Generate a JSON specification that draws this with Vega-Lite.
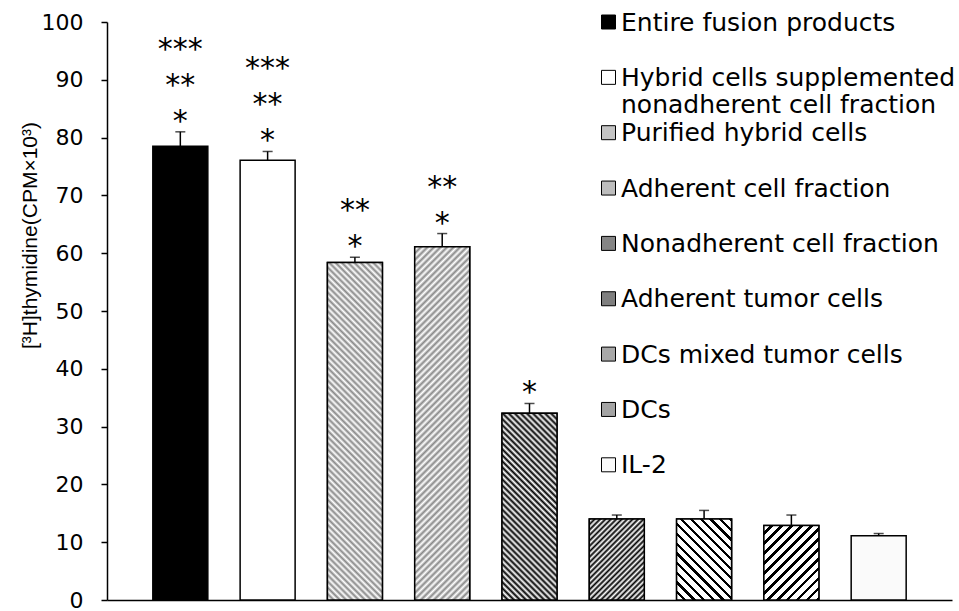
{
  "$schema": "https://vega.github.io/schema/vega-lite/v6.json",
  "width": 845,
  "height": 578,
  "autosize": {"type": "none"},
  "padding": {"left": 107, "top": 22, "right": 7, "bottom": 11},
  "background": "white",
  "config": {"view": {"stroke": null}, "font": "DejaVu Sans"},
  "data": {
    "values": [
      {"group": "Entire fusion products", "value": 78.5, "hi": 81.0, "s1": "*", "s2": "**", "s3": "***"},
      {"group": "Hybrid cells supplemented nonadherent cell fraction", "value": 76.1, "hi": 77.6, "s1": "*", "s2": "**", "s3": "***"},
      {"group": "Purified hybrid cells", "value": 58.4, "hi": 59.3, "s1": "*", "s2": "**", "s3": ""},
      {"group": "Adherent cell fraction", "value": 61.1, "hi": 63.4, "s1": "*", "s2": "**", "s3": ""},
      {"group": "Nonadherent cell fraction", "value": 32.3, "hi": 34.0, "s1": "*", "s2": "", "s3": ""},
      {"group": "Adherent tumor cells", "value": 14.0, "hi": 14.7, "s1": "", "s2": "", "s3": ""},
      {"group": "DCs mixed tumor cells", "value": 14.0, "hi": 15.5, "s1": "", "s2": "", "s3": ""},
      {"group": "DCs", "value": 12.9, "hi": 14.7, "s1": "", "s2": "", "s3": ""},
      {"group": "IL-2", "value": 11.1, "hi": 11.5, "s1": "", "s2": "", "s3": ""}
    ]
  },
  "encoding": {
    "x": {
      "field": "group",
      "type": "nominal",
      "sort": null,
      "scale": {
        "domain": ["Entire fusion products", "Hybrid cells supplemented nonadherent cell fraction", "Purified hybrid cells", "Adherent cell fraction", "Nonadherent cell fraction", "Adherent tumor cells", "DCs mixed tumor cells", "DCs", "IL-2"],
        "paddingInner": 0.37,
        "paddingOuter": 0.525
      },
      "axis": {"labels": false, "ticks": false, "title": null, "domainColor": "black", "domainWidth": 1.5}
    }
  },
  "layer": [
    {
      "mark": {"type": "bar", "stroke": "black", "strokeWidth": 1.5},
      "encoding": {
        "y": {
          "field": "value",
          "type": "quantitative",
          "scale": {"domain": [0, 100]},
          "axis": {
            "title": "[³H]thymidine(CPM×10³)",
            "values": [0, 10, 20, 30, 40, 50, 60, 70, 80, 90, 100],
            "grid": false,
            "domainColor": "black",
            "domainWidth": 1.5,
            "tickColor": "black",
            "tickWidth": 1.5,
            "tickSize": 6,
            "labelFont": "DejaVu Sans",
            "labelFontSize": 22,
            "labelColor": "black",
            "labelPadding": 18,
            "labelFlush": false,
            "labelOverlap": false,
            "titleFont": "Liberation Sans",
            "titleFontSize": 21,
            "titleFontWeight": "normal",
            "titleColor": "black",
            "titleX": -77,
            "titleY": 213,
            "titleAngle": -90,
            "titleAlign": "center",
            "titleBaseline": "middle"
          }
        },
        "fill": {
          "field": "group",
          "type": "nominal",
          "scale": {
            "domain": ["Entire fusion products", "Hybrid cells supplemented nonadherent cell fraction", "Purified hybrid cells", "Adherent cell fraction", "Nonadherent cell fraction", "Adherent tumor cells", "DCs mixed tumor cells", "DCs", "IL-2"],
            "range": ["#000000", "#ffffff", "#c4c4c4", "#bdbdbd", "#858585", "#7f7f7f", "#a8a8a8", "#a4a4a4", "#fafafa"]
          },
          "legend": {
            "orient": "none",
            "legendX": 489,
            "legendY": -12,
            "title": null,
            "padding": 0,
            "symbolType": "square",
            "symbolSize": 196,
            "symbolStrokeColor": "black",
            "symbolStrokeWidth": 1,
            "symbolOpacity": 1,
            "labelFont": "DejaVu Sans",
            "labelFontSize": 25,
            "labelColor": "black",
            "labelLimit": 0,
            "labelOffset": 0,
            "rowPadding": 2.35,
            "clipHeight": 24,
            "labelBaseline": "alphabetic",
            "labelExpr": "datum.label == 'Hybrid cells supplemented nonadherent cell fraction' ? ['Hybrid cells supplemented', 'nonadherent cell fraction'] : [datum.label, ' ']",
            "encode": {"labels": {"update": {"dy": {"value": 8.5}}}}
          }
        }
      }
    },
    {
      "transform": [{"filter": "datum.group == 'Purified hybrid cells'"}],
      "mark": {"type": "bar", "stroke": "black", "strokeWidth": 1.5,
        "fill": {"gradient": "linear", "x1": 0, "y1": 1, "x2": 0.1846, "y2": -0.1329, "stops": [
          {"offset": 0, "color": "#888"}, {"offset": 0.008, "color": "#fff"}, {"offset": 0.016, "color": "#888"}, {"offset": 0.024, "color": "#fff"},
          {"offset": 0.032, "color": "#888"}, {"offset": 0.04, "color": "#fff"}, {"offset": 0.048, "color": "#888"}, {"offset": 0.056, "color": "#fff"},
          {"offset": 0.064, "color": "#888"}, {"offset": 0.072, "color": "#fff"}, {"offset": 0.08, "color": "#888"}, {"offset": 0.088, "color": "#fff"},
          {"offset": 0.096, "color": "#888"}, {"offset": 0.104, "color": "#fff"}, {"offset": 0.112, "color": "#888"}, {"offset": 0.12, "color": "#fff"},
          {"offset": 0.128, "color": "#888"}, {"offset": 0.136, "color": "#fff"}, {"offset": 0.144, "color": "#888"}, {"offset": 0.152, "color": "#fff"},
          {"offset": 0.16, "color": "#888"}, {"offset": 0.168, "color": "#fff"}, {"offset": 0.176, "color": "#888"}, {"offset": 0.184, "color": "#fff"},
          {"offset": 0.192, "color": "#888"}, {"offset": 0.2, "color": "#fff"}, {"offset": 0.208, "color": "#888"}, {"offset": 0.216, "color": "#fff"},
          {"offset": 0.224, "color": "#888"}, {"offset": 0.232, "color": "#fff"}, {"offset": 0.24, "color": "#888"}, {"offset": 0.248, "color": "#fff"},
          {"offset": 0.256, "color": "#888"}, {"offset": 0.264, "color": "#fff"}, {"offset": 0.272, "color": "#888"}, {"offset": 0.28, "color": "#fff"},
          {"offset": 0.288, "color": "#888"}, {"offset": 0.296, "color": "#fff"}, {"offset": 0.304, "color": "#888"}, {"offset": 0.312, "color": "#fff"},
          {"offset": 0.32, "color": "#888"}, {"offset": 0.328, "color": "#fff"}, {"offset": 0.336, "color": "#888"}, {"offset": 0.344, "color": "#fff"},
          {"offset": 0.352, "color": "#888"}, {"offset": 0.36, "color": "#fff"}, {"offset": 0.368, "color": "#888"}, {"offset": 0.376, "color": "#fff"},
          {"offset": 0.384, "color": "#888"}, {"offset": 0.392, "color": "#fff"}, {"offset": 0.4, "color": "#888"}, {"offset": 0.408, "color": "#fff"},
          {"offset": 0.416, "color": "#888"}, {"offset": 0.424, "color": "#fff"}, {"offset": 0.432, "color": "#888"}, {"offset": 0.44, "color": "#fff"},
          {"offset": 0.448, "color": "#888"}, {"offset": 0.456, "color": "#fff"}, {"offset": 0.464, "color": "#888"}, {"offset": 0.472, "color": "#fff"},
          {"offset": 0.48, "color": "#888"}, {"offset": 0.488, "color": "#fff"}, {"offset": 0.496, "color": "#888"}, {"offset": 0.504, "color": "#fff"},
          {"offset": 0.512, "color": "#888"}, {"offset": 0.52, "color": "#fff"}, {"offset": 0.528, "color": "#888"}, {"offset": 0.536, "color": "#fff"},
          {"offset": 0.544, "color": "#888"}, {"offset": 0.552, "color": "#fff"}, {"offset": 0.56, "color": "#888"}, {"offset": 0.568, "color": "#fff"},
          {"offset": 0.576, "color": "#888"}, {"offset": 0.584, "color": "#fff"}, {"offset": 0.592, "color": "#888"}, {"offset": 0.6, "color": "#fff"},
          {"offset": 0.608, "color": "#888"}, {"offset": 0.616, "color": "#fff"}, {"offset": 0.624, "color": "#888"}, {"offset": 0.632, "color": "#fff"},
          {"offset": 0.64, "color": "#888"}, {"offset": 0.648, "color": "#fff"}, {"offset": 0.656, "color": "#888"}, {"offset": 0.664, "color": "#fff"},
          {"offset": 0.672, "color": "#888"}, {"offset": 0.68, "color": "#fff"}, {"offset": 0.688, "color": "#888"}, {"offset": 0.696, "color": "#fff"},
          {"offset": 0.704, "color": "#888"}, {"offset": 0.712, "color": "#fff"}, {"offset": 0.72, "color": "#888"}, {"offset": 0.728, "color": "#fff"},
          {"offset": 0.736, "color": "#888"}, {"offset": 0.744, "color": "#fff"}, {"offset": 0.752, "color": "#888"}, {"offset": 0.76, "color": "#fff"},
          {"offset": 0.768, "color": "#888"}, {"offset": 0.776, "color": "#fff"}, {"offset": 0.784, "color": "#888"}, {"offset": 0.792, "color": "#fff"},
          {"offset": 0.8, "color": "#888"}, {"offset": 0.808, "color": "#fff"}, {"offset": 0.816, "color": "#888"}, {"offset": 0.824, "color": "#fff"},
          {"offset": 0.832, "color": "#888"}, {"offset": 0.84, "color": "#fff"}, {"offset": 0.848, "color": "#888"}, {"offset": 0.856, "color": "#fff"},
          {"offset": 0.864, "color": "#888"}, {"offset": 0.872, "color": "#fff"}, {"offset": 0.88, "color": "#888"}, {"offset": 0.888, "color": "#fff"},
          {"offset": 0.896, "color": "#888"}, {"offset": 0.904, "color": "#fff"}, {"offset": 0.912, "color": "#888"}, {"offset": 0.92, "color": "#fff"},
          {"offset": 0.928, "color": "#888"}, {"offset": 0.936, "color": "#fff"}, {"offset": 0.944, "color": "#888"}, {"offset": 0.952, "color": "#fff"},
          {"offset": 0.96, "color": "#888"}, {"offset": 0.968, "color": "#fff"}, {"offset": 0.976, "color": "#888"}, {"offset": 0.984, "color": "#fff"},
          {"offset": 0.992, "color": "#888"}, {"offset": 1, "color": "#fff"}
        ]}
      },
      "encoding": {"y": {"field": "value", "type": "quantitative"}}
    },
    {
      "transform": [{"filter": "datum.group == 'Adherent cell fraction'"}],
      "mark": {"type": "bar", "stroke": "black", "strokeWidth": 1.5,
        "fill": {"gradient": "linear", "x1": 0, "y1": 0, "x2": 0.1757, "y2": 1.1284, "stops": [
          {"offset": 0, "color": "#888"}, {"offset": 0.008, "color": "#fff"}, {"offset": 0.016, "color": "#888"}, {"offset": 0.024, "color": "#fff"},
          {"offset": 0.032, "color": "#888"}, {"offset": 0.04, "color": "#fff"}, {"offset": 0.048, "color": "#888"}, {"offset": 0.056, "color": "#fff"},
          {"offset": 0.064, "color": "#888"}, {"offset": 0.072, "color": "#fff"}, {"offset": 0.08, "color": "#888"}, {"offset": 0.088, "color": "#fff"},
          {"offset": 0.096, "color": "#888"}, {"offset": 0.104, "color": "#fff"}, {"offset": 0.112, "color": "#888"}, {"offset": 0.12, "color": "#fff"},
          {"offset": 0.128, "color": "#888"}, {"offset": 0.136, "color": "#fff"}, {"offset": 0.144, "color": "#888"}, {"offset": 0.152, "color": "#fff"},
          {"offset": 0.16, "color": "#888"}, {"offset": 0.168, "color": "#fff"}, {"offset": 0.176, "color": "#888"}, {"offset": 0.184, "color": "#fff"},
          {"offset": 0.192, "color": "#888"}, {"offset": 0.2, "color": "#fff"}, {"offset": 0.208, "color": "#888"}, {"offset": 0.216, "color": "#fff"},
          {"offset": 0.224, "color": "#888"}, {"offset": 0.232, "color": "#fff"}, {"offset": 0.24, "color": "#888"}, {"offset": 0.248, "color": "#fff"},
          {"offset": 0.256, "color": "#888"}, {"offset": 0.264, "color": "#fff"}, {"offset": 0.272, "color": "#888"}, {"offset": 0.28, "color": "#fff"},
          {"offset": 0.288, "color": "#888"}, {"offset": 0.296, "color": "#fff"}, {"offset": 0.304, "color": "#888"}, {"offset": 0.312, "color": "#fff"},
          {"offset": 0.32, "color": "#888"}, {"offset": 0.328, "color": "#fff"}, {"offset": 0.336, "color": "#888"}, {"offset": 0.344, "color": "#fff"},
          {"offset": 0.352, "color": "#888"}, {"offset": 0.36, "color": "#fff"}, {"offset": 0.368, "color": "#888"}, {"offset": 0.376, "color": "#fff"},
          {"offset": 0.384, "color": "#888"}, {"offset": 0.392, "color": "#fff"}, {"offset": 0.4, "color": "#888"}, {"offset": 0.408, "color": "#fff"},
          {"offset": 0.416, "color": "#888"}, {"offset": 0.424, "color": "#fff"}, {"offset": 0.432, "color": "#888"}, {"offset": 0.44, "color": "#fff"},
          {"offset": 0.448, "color": "#888"}, {"offset": 0.456, "color": "#fff"}, {"offset": 0.464, "color": "#888"}, {"offset": 0.472, "color": "#fff"},
          {"offset": 0.48, "color": "#888"}, {"offset": 0.488, "color": "#fff"}, {"offset": 0.496, "color": "#888"}, {"offset": 0.504, "color": "#fff"},
          {"offset": 0.512, "color": "#888"}, {"offset": 0.52, "color": "#fff"}, {"offset": 0.528, "color": "#888"}, {"offset": 0.536, "color": "#fff"},
          {"offset": 0.544, "color": "#888"}, {"offset": 0.552, "color": "#fff"}, {"offset": 0.56, "color": "#888"}, {"offset": 0.568, "color": "#fff"},
          {"offset": 0.576, "color": "#888"}, {"offset": 0.584, "color": "#fff"}, {"offset": 0.592, "color": "#888"}, {"offset": 0.6, "color": "#fff"},
          {"offset": 0.608, "color": "#888"}, {"offset": 0.616, "color": "#fff"}, {"offset": 0.624, "color": "#888"}, {"offset": 0.632, "color": "#fff"},
          {"offset": 0.64, "color": "#888"}, {"offset": 0.648, "color": "#fff"}, {"offset": 0.656, "color": "#888"}, {"offset": 0.664, "color": "#fff"},
          {"offset": 0.672, "color": "#888"}, {"offset": 0.68, "color": "#fff"}, {"offset": 0.688, "color": "#888"}, {"offset": 0.696, "color": "#fff"},
          {"offset": 0.704, "color": "#888"}, {"offset": 0.712, "color": "#fff"}, {"offset": 0.72, "color": "#888"}, {"offset": 0.728, "color": "#fff"},
          {"offset": 0.736, "color": "#888"}, {"offset": 0.744, "color": "#fff"}, {"offset": 0.752, "color": "#888"}, {"offset": 0.76, "color": "#fff"},
          {"offset": 0.768, "color": "#888"}, {"offset": 0.776, "color": "#fff"}, {"offset": 0.784, "color": "#888"}, {"offset": 0.792, "color": "#fff"},
          {"offset": 0.8, "color": "#888"}, {"offset": 0.808, "color": "#fff"}, {"offset": 0.816, "color": "#888"}, {"offset": 0.824, "color": "#fff"},
          {"offset": 0.832, "color": "#888"}, {"offset": 0.84, "color": "#fff"}, {"offset": 0.848, "color": "#888"}, {"offset": 0.856, "color": "#fff"},
          {"offset": 0.864, "color": "#888"}, {"offset": 0.872, "color": "#fff"}, {"offset": 0.88, "color": "#888"}, {"offset": 0.888, "color": "#fff"},
          {"offset": 0.896, "color": "#888"}, {"offset": 0.904, "color": "#fff"}, {"offset": 0.912, "color": "#888"}, {"offset": 0.92, "color": "#fff"},
          {"offset": 0.928, "color": "#888"}, {"offset": 0.936, "color": "#fff"}, {"offset": 0.944, "color": "#888"}, {"offset": 0.952, "color": "#fff"},
          {"offset": 0.96, "color": "#888"}, {"offset": 0.968, "color": "#fff"}, {"offset": 0.976, "color": "#888"}, {"offset": 0.984, "color": "#fff"},
          {"offset": 0.992, "color": "#888"}, {"offset": 1, "color": "#fff"}
        ]}
      },
      "encoding": {"y": {"field": "value", "type": "quantitative"}}
    },
    {
      "transform": [{"filter": "datum.group == 'Nonadherent cell fraction'"}],
      "mark": {"type": "bar", "stroke": "black", "strokeWidth": 1.5,
        "fill": {"gradient": "linear", "x1": 0, "y1": 1, "x2": 0.3509, "y2": -0.1912, "stops": [
          {"offset": 0, "color": "#000"}, {"offset": 0.0125, "color": "#fff"}, {"offset": 0.025, "color": "#000"}, {"offset": 0.0375, "color": "#fff"},
          {"offset": 0.05, "color": "#000"}, {"offset": 0.0625, "color": "#fff"}, {"offset": 0.075, "color": "#000"}, {"offset": 0.0875, "color": "#fff"},
          {"offset": 0.1, "color": "#000"}, {"offset": 0.1125, "color": "#fff"}, {"offset": 0.125, "color": "#000"}, {"offset": 0.1375, "color": "#fff"},
          {"offset": 0.15, "color": "#000"}, {"offset": 0.1625, "color": "#fff"}, {"offset": 0.175, "color": "#000"}, {"offset": 0.1875, "color": "#fff"},
          {"offset": 0.2, "color": "#000"}, {"offset": 0.2125, "color": "#fff"}, {"offset": 0.225, "color": "#000"}, {"offset": 0.2375, "color": "#fff"},
          {"offset": 0.25, "color": "#000"}, {"offset": 0.2625, "color": "#fff"}, {"offset": 0.275, "color": "#000"}, {"offset": 0.2875, "color": "#fff"},
          {"offset": 0.3, "color": "#000"}, {"offset": 0.3125, "color": "#fff"}, {"offset": 0.325, "color": "#000"}, {"offset": 0.3375, "color": "#fff"},
          {"offset": 0.35, "color": "#000"}, {"offset": 0.3625, "color": "#fff"}, {"offset": 0.375, "color": "#000"}, {"offset": 0.3875, "color": "#fff"},
          {"offset": 0.4, "color": "#000"}, {"offset": 0.4125, "color": "#fff"}, {"offset": 0.425, "color": "#000"}, {"offset": 0.4375, "color": "#fff"},
          {"offset": 0.45, "color": "#000"}, {"offset": 0.4625, "color": "#fff"}, {"offset": 0.475, "color": "#000"}, {"offset": 0.4875, "color": "#fff"},
          {"offset": 0.5, "color": "#000"}, {"offset": 0.5125, "color": "#fff"}, {"offset": 0.525, "color": "#000"}, {"offset": 0.5375, "color": "#fff"},
          {"offset": 0.55, "color": "#000"}, {"offset": 0.5625, "color": "#fff"}, {"offset": 0.575, "color": "#000"}, {"offset": 0.5875, "color": "#fff"},
          {"offset": 0.6, "color": "#000"}, {"offset": 0.6125, "color": "#fff"}, {"offset": 0.625, "color": "#000"}, {"offset": 0.6375, "color": "#fff"},
          {"offset": 0.65, "color": "#000"}, {"offset": 0.6625, "color": "#fff"}, {"offset": 0.675, "color": "#000"}, {"offset": 0.6875, "color": "#fff"},
          {"offset": 0.7, "color": "#000"}, {"offset": 0.7125, "color": "#fff"}, {"offset": 0.725, "color": "#000"}, {"offset": 0.7375, "color": "#fff"},
          {"offset": 0.75, "color": "#000"}, {"offset": 0.7625, "color": "#fff"}, {"offset": 0.775, "color": "#000"}, {"offset": 0.7875, "color": "#fff"},
          {"offset": 0.8, "color": "#000"}, {"offset": 0.8125, "color": "#fff"}, {"offset": 0.825, "color": "#000"}, {"offset": 0.8375, "color": "#fff"},
          {"offset": 0.85, "color": "#000"}, {"offset": 0.8625, "color": "#fff"}, {"offset": 0.875, "color": "#000"}, {"offset": 0.8875, "color": "#fff"},
          {"offset": 0.9, "color": "#000"}, {"offset": 0.9125, "color": "#fff"}, {"offset": 0.925, "color": "#000"}, {"offset": 0.9375, "color": "#fff"},
          {"offset": 0.95, "color": "#000"}, {"offset": 0.9625, "color": "#fff"}, {"offset": 0.975, "color": "#000"}, {"offset": 0.9875, "color": "#fff"},
          {"offset": 1, "color": "#000"}
        ]}
      },
      "encoding": {"y": {"field": "value", "type": "quantitative"}}
    },
    {
      "transform": [{"filter": "datum.group == 'Adherent tumor cells'"}],
      "mark": {"type": "bar", "stroke": "black", "strokeWidth": 1.5,
        "fill": {"gradient": "linear", "x1": 0, "y1": 0, "x2": 0.781, "y2": 1.1488, "stops": [
          {"offset": 0, "color": "#000"}, {"offset": 0.02, "color": "#fff"}, {"offset": 0.04, "color": "#000"}, {"offset": 0.06, "color": "#fff"},
          {"offset": 0.08, "color": "#000"}, {"offset": 0.1, "color": "#fff"}, {"offset": 0.12, "color": "#000"}, {"offset": 0.14, "color": "#fff"},
          {"offset": 0.16, "color": "#000"}, {"offset": 0.18, "color": "#fff"}, {"offset": 0.2, "color": "#000"}, {"offset": 0.22, "color": "#fff"},
          {"offset": 0.24, "color": "#000"}, {"offset": 0.26, "color": "#fff"}, {"offset": 0.28, "color": "#000"}, {"offset": 0.3, "color": "#fff"},
          {"offset": 0.32, "color": "#000"}, {"offset": 0.34, "color": "#fff"}, {"offset": 0.36, "color": "#000"}, {"offset": 0.38, "color": "#fff"},
          {"offset": 0.4, "color": "#000"}, {"offset": 0.42, "color": "#fff"}, {"offset": 0.44, "color": "#000"}, {"offset": 0.46, "color": "#fff"},
          {"offset": 0.48, "color": "#000"}, {"offset": 0.5, "color": "#fff"}, {"offset": 0.52, "color": "#000"}, {"offset": 0.54, "color": "#fff"},
          {"offset": 0.56, "color": "#000"}, {"offset": 0.58, "color": "#fff"}, {"offset": 0.6, "color": "#000"}, {"offset": 0.62, "color": "#fff"},
          {"offset": 0.64, "color": "#000"}, {"offset": 0.66, "color": "#fff"}, {"offset": 0.68, "color": "#000"}, {"offset": 0.7, "color": "#fff"},
          {"offset": 0.72, "color": "#000"}, {"offset": 0.74, "color": "#fff"}, {"offset": 0.76, "color": "#000"}, {"offset": 0.78, "color": "#fff"},
          {"offset": 0.8, "color": "#000"}, {"offset": 0.82, "color": "#fff"}, {"offset": 0.84, "color": "#000"}, {"offset": 0.86, "color": "#fff"},
          {"offset": 0.88, "color": "#000"}, {"offset": 0.9, "color": "#fff"}, {"offset": 0.92, "color": "#000"}, {"offset": 0.94, "color": "#fff"},
          {"offset": 0.96, "color": "#000"}, {"offset": 0.98, "color": "#fff"}, {"offset": 1, "color": "#000"}
        ]}
      },
      "encoding": {"y": {"field": "value", "type": "quantitative"}}
    },
    {
      "transform": [{"filter": "datum.group == 'DCs mixed tumor cells'"}],
      "mark": {"type": "bar", "stroke": "black", "strokeWidth": 1.5,
        "fill": {"gradient": "linear", "x1": 0, "y1": 1, "x2": 0.781, "y2": -0.149, "stops": [
          {"offset": 0, "color": "#fff"}, {"offset": 0.0479, "color": "#fff"}, {"offset": 0.0479, "color": "#000"}, {"offset": 0.0714, "color": "#000"},
          {"offset": 0.0714, "color": "#fff"}, {"offset": 0.1193, "color": "#fff"}, {"offset": 0.1193, "color": "#000"}, {"offset": 0.1429, "color": "#000"},
          {"offset": 0.1429, "color": "#fff"}, {"offset": 0.1907, "color": "#fff"}, {"offset": 0.1907, "color": "#000"}, {"offset": 0.2143, "color": "#000"},
          {"offset": 0.2143, "color": "#fff"}, {"offset": 0.2622, "color": "#fff"}, {"offset": 0.2622, "color": "#000"}, {"offset": 0.2857, "color": "#000"},
          {"offset": 0.2857, "color": "#fff"}, {"offset": 0.3336, "color": "#fff"}, {"offset": 0.3336, "color": "#000"}, {"offset": 0.3571, "color": "#000"},
          {"offset": 0.3571, "color": "#fff"}, {"offset": 0.405, "color": "#fff"}, {"offset": 0.405, "color": "#000"}, {"offset": 0.4286, "color": "#000"},
          {"offset": 0.4286, "color": "#fff"}, {"offset": 0.4764, "color": "#fff"}, {"offset": 0.4764, "color": "#000"}, {"offset": 0.5, "color": "#000"},
          {"offset": 0.5, "color": "#fff"}, {"offset": 0.5479, "color": "#fff"}, {"offset": 0.5479, "color": "#000"}, {"offset": 0.5714, "color": "#000"},
          {"offset": 0.5714, "color": "#fff"}, {"offset": 0.6193, "color": "#fff"}, {"offset": 0.6193, "color": "#000"}, {"offset": 0.6429, "color": "#000"},
          {"offset": 0.6429, "color": "#fff"}, {"offset": 0.6907, "color": "#fff"}, {"offset": 0.6907, "color": "#000"}, {"offset": 0.7143, "color": "#000"},
          {"offset": 0.7143, "color": "#fff"}, {"offset": 0.7622, "color": "#fff"}, {"offset": 0.7622, "color": "#000"}, {"offset": 0.7857, "color": "#000"},
          {"offset": 0.7857, "color": "#fff"}, {"offset": 0.8336, "color": "#fff"}, {"offset": 0.8336, "color": "#000"}, {"offset": 0.8571, "color": "#000"},
          {"offset": 0.8571, "color": "#fff"}, {"offset": 0.905, "color": "#fff"}, {"offset": 0.905, "color": "#000"}, {"offset": 0.9286, "color": "#000"},
          {"offset": 0.9286, "color": "#fff"}, {"offset": 0.9764, "color": "#fff"}, {"offset": 0.9764, "color": "#000"}, {"offset": 1, "color": "#000"}
        ]}
      },
      "encoding": {"y": {"field": "value", "type": "quantitative"}}
    },
    {
      "transform": [{"filter": "datum.group == 'DCs'"}],
      "mark": {"type": "bar", "stroke": "black", "strokeWidth": 1.5,
        "fill": {"gradient": "linear", "x1": 0, "y1": 0, "x2": 0.83, "y2": 1.1255, "stops": [
          {"offset": 0, "color": "#fff"}, {"offset": 0.0515, "color": "#fff"}, {"offset": 0.0515, "color": "#000"}, {"offset": 0.0769, "color": "#000"},
          {"offset": 0.0769, "color": "#fff"}, {"offset": 0.1285, "color": "#fff"}, {"offset": 0.1285, "color": "#000"}, {"offset": 0.1538, "color": "#000"},
          {"offset": 0.1538, "color": "#fff"}, {"offset": 0.2054, "color": "#fff"}, {"offset": 0.2054, "color": "#000"}, {"offset": 0.2308, "color": "#000"},
          {"offset": 0.2308, "color": "#fff"}, {"offset": 0.2823, "color": "#fff"}, {"offset": 0.2823, "color": "#000"}, {"offset": 0.3077, "color": "#000"},
          {"offset": 0.3077, "color": "#fff"}, {"offset": 0.3592, "color": "#fff"}, {"offset": 0.3592, "color": "#000"}, {"offset": 0.3846, "color": "#000"},
          {"offset": 0.3846, "color": "#fff"}, {"offset": 0.4362, "color": "#fff"}, {"offset": 0.4362, "color": "#000"}, {"offset": 0.4615, "color": "#000"},
          {"offset": 0.4615, "color": "#fff"}, {"offset": 0.5131, "color": "#fff"}, {"offset": 0.5131, "color": "#000"}, {"offset": 0.5385, "color": "#000"},
          {"offset": 0.5385, "color": "#fff"}, {"offset": 0.59, "color": "#fff"}, {"offset": 0.59, "color": "#000"}, {"offset": 0.6154, "color": "#000"},
          {"offset": 0.6154, "color": "#fff"}, {"offset": 0.6669, "color": "#fff"}, {"offset": 0.6669, "color": "#000"}, {"offset": 0.6923, "color": "#000"},
          {"offset": 0.6923, "color": "#fff"}, {"offset": 0.7438, "color": "#fff"}, {"offset": 0.7438, "color": "#000"}, {"offset": 0.7692, "color": "#000"},
          {"offset": 0.7692, "color": "#fff"}, {"offset": 0.8208, "color": "#fff"}, {"offset": 0.8208, "color": "#000"}, {"offset": 0.8462, "color": "#000"},
          {"offset": 0.8462, "color": "#fff"}, {"offset": 0.8977, "color": "#fff"}, {"offset": 0.8977, "color": "#000"}, {"offset": 0.9231, "color": "#000"},
          {"offset": 0.9231, "color": "#fff"}, {"offset": 0.9746, "color": "#fff"}, {"offset": 0.9746, "color": "#000"}, {"offset": 1, "color": "#000"}
        ]}
      },
      "encoding": {"y": {"field": "value", "type": "quantitative"}}
    },
    {
      "mark": {"type": "rule", "color": "black", "strokeWidth": 1.5},
      "encoding": {
        "y": {"field": "value", "type": "quantitative"},
        "y2": {"field": "hi"}
      }
    },
    {
      "mark": {"type": "tick", "color": "black", "thickness": 1.5, "size": 10},
      "encoding": {"y": {"field": "hi", "type": "quantitative"}}
    },
    {
      "mark": {"type": "text", "baseline": "bottom", "align": "center", "fontSize": 30, "dy": 5, "font": "DejaVu Sans", "color": "black"},
      "encoding": {"y": {"field": "hi", "type": "quantitative"}, "text": {"field": "s1"}}
    },
    {
      "mark": {"type": "text", "baseline": "bottom", "align": "center", "fontSize": 30, "dy": -31, "font": "DejaVu Sans", "color": "black"},
      "encoding": {"y": {"field": "hi", "type": "quantitative"}, "text": {"field": "s2"}}
    },
    {
      "mark": {"type": "text", "baseline": "bottom", "align": "center", "fontSize": 30, "dy": -67, "font": "DejaVu Sans", "color": "black"},
      "encoding": {"y": {"field": "hi", "type": "quantitative"}, "text": {"field": "s3"}}
    }
  ]
}
